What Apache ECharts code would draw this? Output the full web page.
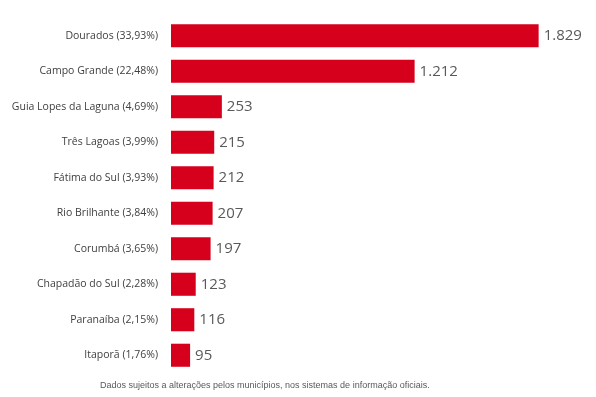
<!DOCTYPE html>
<html>
<head>
<meta charset="utf-8">
<script src="https://cdn.jsdelivr.net/npm/echarts@6/dist/echarts.min.js"></script>
<style>
  html, body { margin: 0; padding: 0; background: #fff; }
  #chart { width: 596px; height: 397px; }
</style>
</head>
<body>
<div id="chart"></div>
<script>
// municípios e participação (%)
const categories = [
  'Dourados (33,93%)',
  'Campo Grande (22,48%)',
  'Guia Lopes da Laguna (4,69%)',
  'Três Lagoas (3,99%)',
  'Fátima do Sul (3,93%)',
  'Rio Brilhante (3,84%)',
  'Corumbá (3,65%)',
  'Chapadão do Sul (2,28%)',
  'Paranaíba (2,15%)',
  'Itaporã (1,76%)'
];
const casos = [1829, 1212, 253, 215, 212, 207, 197, 123, 116, 95];
const nota = 'Dados sujeitos a alterações pelos municípios, nos sistemas de informação oficiais.';

const chart = echarts.init(document.getElementById('chart'));

const option = {
  animation: false,
  grid: { left: 171, top: 18, width: 402, height: 355 },
  graphic: [{
    type: 'text',
    left: 100,
    top: 381,
    style: {
      text: nota,
      fill: '#595959',
      font: '9px "Liberation Sans", Arial, sans-serif'
    }
  }],
  xAxis: {
    type: 'value',
    min: 0,
    max: 2000,
    show: false
  },
  yAxis: {
    type: 'category',
    inverse: true,
    data: categories,
    axisLine: { show: false },
    axisTick: { show: false },
    axisLabel: {
      margin: 13,
      color: '#404040',
      fontSize: 10.5,
      fontFamily: '"Open Sans", sans-serif'
    }
  },
  series: [{
    type: 'bar',
    data: casos,
    barCategoryGap: '35%',
    itemStyle: { color: '#d6001c' },
    label: {
      show: true,
      position: 'right',
      distance: 5,
      color: '#595959',
      fontSize: 15,
      fontFamily: '"Open Sans", sans-serif',
      formatter: p => p.value.toLocaleString('pt-BR')
    }
  }]
};

option && chart.setOption(option);
</script>
</body>
</html>
